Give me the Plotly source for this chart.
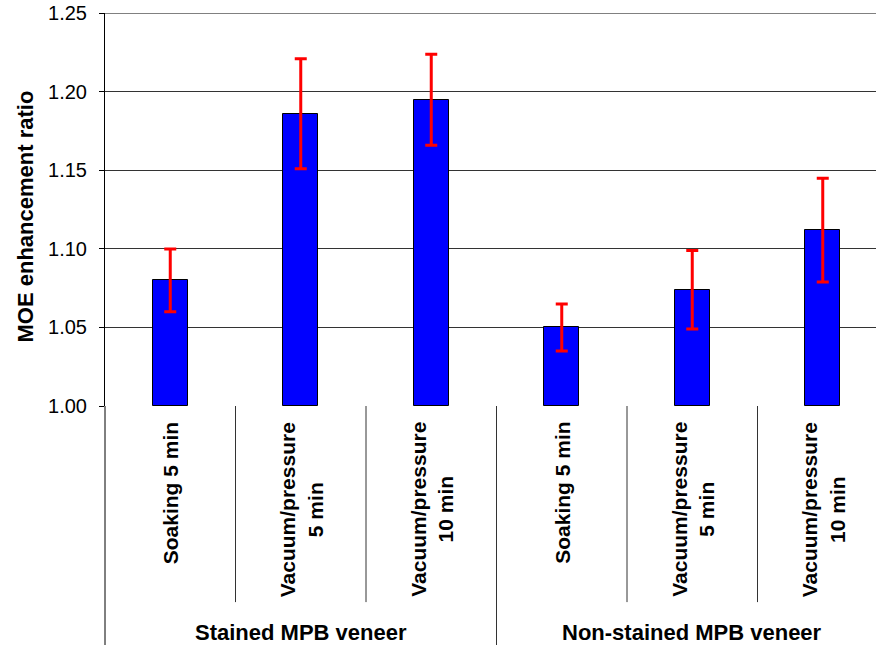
import plotly.graph_objects as go

groups = ["Stained MPB veneer", "Non-stained MPB veneer"]
categories = ["Soaking 5 min", "Vacuum/pressure<br>5 min", "Vacuum/pressure<br>10 min",
              "Soaking 5 min", "Vacuum/pressure<br>5 min", "Vacuum/pressure<br>10 min"]
values = [1.080, 1.186, 1.195, 1.050, 1.074, 1.112]
errors = [0.020, 0.035, 0.029, 0.015, 0.025, 0.033]
y_ticks = [1.00, 1.05, 1.10, 1.15, 1.20, 1.25]

FONT = "Liberation Sans, Arial, sans-serif"
xs = list(range(len(categories)))

fig = go.Figure()
fig.add_trace(go.Bar(
    x=xs, y=[v - 1.0 for v in values], base=1.0, width=0.265,
    marker=dict(color="#0000FF", line=dict(color="black", width=1)),
    error_y=dict(type="data", array=errors, color="#FF0000", thickness=3, width=6),
    showlegend=False, hoverinfo="skip",
))

per_group = len(categories) // len(groups)
xmax = -0.5 + (876 - 105) / 130.5

shapes = []
for i in range(len(categories) - 1):
    b = i + 0.5
    y1 = -0.62 if (i + 1) % per_group == 0 else -0.499
    shapes.append(dict(type="line", xref="x", yref="paper", x0=b, x1=b, y0=0, y1=y1,
                       line=dict(color="#333333", width=1)))
shapes.append(dict(type="line", xref="paper", yref="paper", x0=0, x1=0, y0=0, y1=-0.62,
                   line=dict(color="black", width=1)))
# top gridline at the upper end of the value axis
shapes.append(dict(type="line", xref="paper", yref="y", x0=0, x1=1, y0=y_ticks[-1], y1=y_ticks[-1],
                   line=dict(color="#808080", width=1.5), layer="below"))

annotations = []
for i, c in enumerate(categories):
    annotations.append(dict(x=i, y=0, xref="x", yref="paper", text="<b>" + c + "</b>",
                            textangle=-90, showarrow=False, xanchor="center",
                            yanchor="top", yshift=-14, align="center",
                            font=dict(family=FONT, size=21, color="black")))
for g, name in enumerate(groups):
    cx = g * per_group + (per_group - 1) / 2
    annotations.append(dict(x=cx, y=0, xref="x", yref="paper", text="<b>" + name + "</b>",
                            showarrow=False, xanchor="center", yanchor="middle",
                            yshift=-226, font=dict(family=FONT, size=22, color="black")))
annotations.append(dict(x=0, y=0.5, xref="paper", yref="paper", xshift=-80, yshift=-7,
                        text="<b>MOE enhancement ratio</b>", textangle=-90, showarrow=False,
                        xanchor="center", yanchor="middle",
                        font=dict(family=FONT, size=22, color="black")))

fig.update_layout(
    width=876, height=645,
    margin=dict(l=105, r=0, t=13, b=239, autoexpand=False),
    paper_bgcolor="white", plot_bgcolor="white",
    font=dict(family=FONT, size=20, color="black"),
    xaxis=dict(range=[-0.5, xmax], showticklabels=False, ticks="", showgrid=False,
               zeroline=False, showline=False, fixedrange=True, automargin=False),
    yaxis=dict(range=[1.0, 1.2502], tickvals=y_ticks, tickformat=".2f",
               ticks="outside", ticklen=5, tickcolor="black", ticklabelstandoff=8,
               showline=True, linecolor="black", linewidth=1, automargin=False,
               showgrid=True, gridcolor="#333333", gridwidth=1, zeroline=False,
               tickfont=dict(family=FONT, size=20, color="black")),
    shapes=shapes, annotations=annotations,
    bargap=0,
)
fig.write_html("out.html", config={"displayModeBar": False},
               post_script="document.body.style.margin='0px';document.body.style.padding='0px';")
